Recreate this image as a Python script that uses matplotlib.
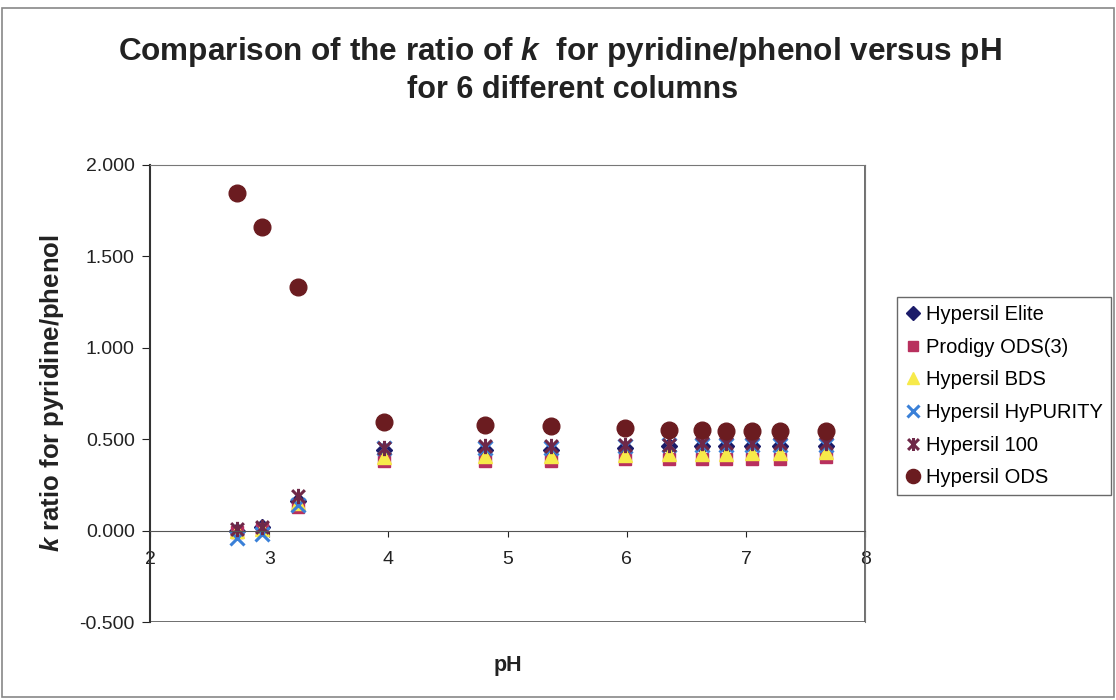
import matplotlib
matplotlib.use("Agg")
import matplotlib.pyplot as plt
from matplotlib.path import Path
from matplotlib.patches import Rectangle

plt.rcParams['font.family'] = ['Liberation Sans', 'DejaVu Sans']
plt.rcParams['mathtext.fontset'] = 'custom'
plt.rcParams['mathtext.rm'] = 'Liberation Sans:bold'
plt.rcParams['mathtext.bf'] = 'Liberation Sans:bold'
plt.rcParams['mathtext.bfit'] = 'Liberation Sans:italic:bold'
plt.rcParams['mathtext.it'] = 'Liberation Sans:italic:bold'

# pH values
ph = [2.73, 2.94, 3.24, 3.96, 4.81, 5.36, 5.98, 6.35, 6.63, 6.83, 7.05, 7.28, 7.67]

# k ratio pyridine/phenol per column
elite     = [0.00, 0.02, 0.16, 0.44, 0.44, 0.44, 0.45, 0.46, 0.46, 0.46, 0.46, 0.46, 0.46]
prodigy   = [-0.01, 0.01, 0.13, 0.38, 0.38, 0.38, 0.39, 0.39, 0.39, 0.39, 0.39, 0.39, 0.40]
bds       = [0.00, 0.01, 0.15, 0.40, 0.41, 0.41, 0.415, 0.42, 0.42, 0.42, 0.425, 0.425, 0.43]
hypurity  = [-0.04, -0.02, 0.14, 0.45, 0.45, 0.45, 0.46, 0.47, 0.47, 0.47, 0.47, 0.47, 0.47]
h100      = [0.01, 0.02, 0.19, 0.45, 0.46, 0.46, 0.47, 0.47, 0.48, 0.48, 0.48, 0.48, 0.48]
ods       = [1.845, 1.66, 1.335, 0.595, 0.575, 0.57, 0.56, 0.55, 0.55, 0.545, 0.545, 0.545, 0.545]

names = ["Hypersil Elite", "Prodigy ODS(3)", "Hypersil BDS",
         "Hypersil HyPURITY", "Hypersil 100", "Hypersil ODS"]

star = Path([(-1, -1), (1, 1), (-1, 1), (1, -1), (0, -1.2), (0, 1.2)],
            [Path.MOVETO, Path.LINETO, Path.MOVETO, Path.LINETO, Path.MOVETO, Path.LINETO])

fig = plt.figure(figsize=(11.16, 7.0), dpi=100)
ax = fig.add_axes([0.1344, 0.1114, 0.641, 0.653])

ax.plot(ph, elite, 'D', color='#1c1c6a', ms=8, ls='none', label=names[0])
ax.plot(ph, prodigy, 's', color='#b8305e', ms=8.5, ls='none', label=names[1])
ax.plot(ph, bds, '^', color='#f7ea4a', ms=9.5, ls='none', label=names[2])
ax.plot(ph, hypurity, 'x', color='#3a80d8', ms=10, mew=2.2, ls='none', label=names[3])
ax.plot(ph, h100, marker=star, color='#6e2848', ms=11, mew=2.2, ls='none', label=names[4])
ax.plot(ph, ods, 'o', color='#6b1c20', ms=12, ls='none', label=names[5])

ax.set_xlim(2, 8)
ax.set_ylim(-0.5, 2.0)
ax.set_yticks([-0.5, 0, 0.5, 1.0, 1.5, 2.0])
ax.set_yticklabels(["-0.500", "0.000", "0.500", "1.000", "1.500", "2.000"])
ax.set_xticks([2, 3, 4, 5, 6, 7, 8])

ax.spines['bottom'].set_position(('data', 0))
ax.spines['bottom'].set_color('#555555')
ax.spines['left'].set_color('#333333')
ax.spines['left'].set_linewidth(1.5)
ax.spines['top'].set_color('#777777')
ax.spines['right'].set_color('#777777')
ax.add_patch(Rectangle((0, 0), 1, 1, transform=ax.transAxes, fill=False,
                       edgecolor='#555555', lw=1.2, zorder=0))
ax.tick_params(axis='both', direction='out', labelsize=14, colors='#222222')
ax.tick_params(axis='x', length=4, pad=11)
ax.tick_params(axis='y', length=6, pad=5)

fig.text(0.502, 0.926, r"Comparison of the ratio of $\mathbfit{k}$  for pyridine/phenol versus pH",
         ha='center', va='center', fontsize=22.7, fontweight='bold', color='#222222')
fig.text(0.513, 0.872, "for 6 different columns",
         ha='center', va='center', fontsize=22, fontweight='bold', color='#222222')

fig.text(0.047, 0.438, r"$\mathbfit{k}$ ratio for pyridine/phenol", rotation=90,
         ha='center', va='center', fontsize=18.5, fontweight='bold', color='#222222')
fig.text(0.455, 0.05, "pH", ha='center', va='center', fontsize=15.5,
         fontweight='bold', color='#222222')

leg = fig.legend(loc='upper left', bbox_to_anchor=(0.804, 0.576), fontsize=14.5,
                 frameon=True, fancybox=False, handlelength=0.8, handletextpad=0.25,
                 labelspacing=0.68, borderpad=0.4, borderaxespad=0, markerscale=0.85)
leg.get_frame().set_edgecolor('#444444')
leg.get_frame().set_linewidth(1.0)

fig.add_artist(Rectangle((0.002, 0.004), 0.996, 0.984, transform=fig.transFigure,
                         fill=False, edgecolor='#888888', lw=1.2))

fig.savefig("out.png", dpi=100)
